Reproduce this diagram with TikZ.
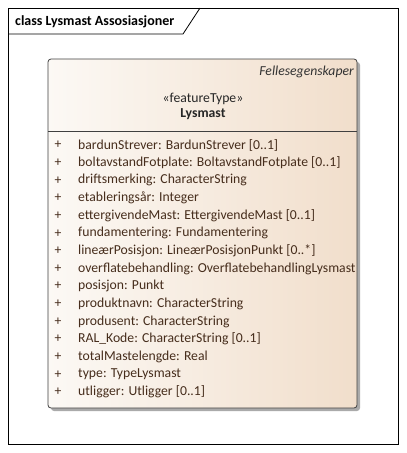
\documentclass[tikz,border=0pt]{standalone}
\usepackage{fontspec}
\setmainfont{Carlito}
\begin{document}
\begin{tikzpicture}[x=1pt,y=-1pt,
  attr/.style={anchor=west,inner sep=0pt,text=txtc,font=\fontsize{13.7}{16}\selectfont},
  plus/.style={anchor=center,inner sep=0pt,text=txtc,font=\fontsize{13.7}{16}\selectfont}]
\definecolor{txtc}{RGB}{70,45,28}
\definecolor{boxl}{RGB}{252,249,245}
\definecolor{boxr}{RGB}{241,222,203}
\definecolor{shad}{RGB}{170,170,170}
\useasboundingbox (0,0) rectangle (407,453);
\fill[white] (0,0) rectangle (407,453);
% frame
\draw[line width=1pt] (8,8) rectangle (398,444);
\draw[line width=0.8pt] (8,34) -- (183,34) -- (200,8);
\node[anchor=west,inner sep=0pt,font=\bfseries\fontsize{14}{16}\selectfont] (title) at (15,21.5) {class Lysmast Assosiasjoner};
% shadow
\fill[shad,rounded corners=3pt] (51,62) rectangle (360,411);
% box
\shade[left color=boxl,right color=boxr,rounded corners=3pt] (48,59) rectangle (357,408);
\draw[draw=black!75,line width=0.8pt,rounded corners=3pt] (48,59) rectangle (357,408);
\draw[draw=black!75,line width=0.8pt] (48,131) -- (357,131);
\node[anchor=east,inner sep=0pt,text=black!80,font=\itshape\fontsize{13.7}{16}\selectfont] (fe) at (354,72) {Fellesegenskaper};
\node[inner sep=0pt,text=black!85,font=\fontsize{13.7}{16}\selectfont] (st) at (203,99) {«featureType»};
\node[inner sep=0pt,text=black!85,font=\bfseries\fontsize{13.7}{16}\selectfont] (nm) at (203,114) {Lysmast};
\foreach \t [count=\i] in {
  {bardunStrever: BardunStrever [0..1]},
  {boltavstandFotplate: BoltavstandFotplate [0..1]},
  {driftsmerking: CharacterString},
  {etableringsår: Integer},
  {ettergivendeMast: EttergivendeMast [0..1]},
  {fundamentering: Fundamentering},
  {lineærPosisjon: LineærPosisjonPunkt [0..*]},
  {overflatebehandling: OverflatebehandlingLysmast},
  {posisjon: Punkt},
  {produktnavn: CharacterString},
  {produsent: CharacterString},
  {RAL\_Kode: CharacterString [0..1]},
  {totalMastelengde: Real},
  {type: TypeLysmast},
  {utligger: Utligger [0..1]}} {
  \node[plus] (p\i) at (58,{145+17.65*(\i-1)}) {+};
  \node[attr] (a\i) at (78,{145+17.65*(\i-1)}) {\t};
}
\end{tikzpicture}
\end{document}
